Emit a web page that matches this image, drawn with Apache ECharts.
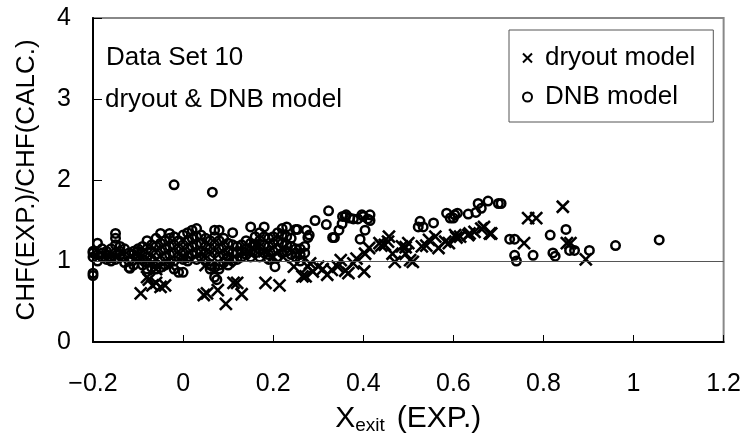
<!DOCTYPE html>
<html>
<head>
<meta charset="utf-8">
<script src="https://cdn.jsdelivr.net/npm/echarts@6/dist/echarts.min.js"></script>
<style>html,body{margin:0;padding:0;background:#fff}#c{width:744px;height:445px}</style>
</head>
<body>
<div id="c"></div>
<script>
// ---- data ----
const seriesNames = ['dryout model', 'DNB model'];
const xMin = -0.2, xMax = 1.2, xStep = 0.2;
const yMin = 0, yMax = 4, yStep = 1;
const refLineY = 1;
const noteLines = ['Data Set 10', 'dryout & DNB model'];

// dryout model (x marks): [X_exit, CHF ratio]
const dryoutPoints = [
  [-0.094,0.60],[-0.076,0.77],[-0.068,0.70],[-0.05,0.68],[-0.04,0.70],[-0.08,0.80],[-0.06,0.73],
  [0.046,0.58],[0.053,0.60],[0.077,0.64],[0.095,0.47],[0.112,0.73],[0.12,0.73],[0.13,0.59],[0.183,0.73],[0.214,0.70],
  [-0.15,1.05],[-0.10,1.00],[-0.06,0.90],[-0.03,0.95],[0.00,1.05],[0.05,0.95],[0.10,1.00],[0.15,1.10],[0.20,1.05],[0.18,1.12],[0.16,1.20],[0.22,1.15],
  [0.222,1.05],[0.246,0.93],[0.265,0.81],[0.272,0.81],[0.277,0.93],[0.282,0.97],[0.288,0.87],[0.30,0.93],[0.31,0.90],[0.32,0.83],
  [0.33,0.89],[0.343,0.93],[0.35,1.01],[0.36,0.88],[0.367,0.85],[0.378,0.97],[0.385,1.03],[0.402,0.87],[0.404,1.09],[0.413,1.16],
  [0.436,1.22],[0.44,1.19],[0.448,1.20],[0.455,1.24],[0.457,1.30],[0.465,1.09],[0.47,0.99],[0.486,1.18],[0.494,1.09],[0.494,1.17],
  [0.50,1.22],[0.504,1.01],[0.51,0.99],[0.53,1.18],[0.54,1.19],[0.546,1.26],[0.56,1.30],[0.567,1.16],[0.582,1.24],[0.59,1.22],
  [0.604,1.32],[0.607,1.29],[0.615,1.30],[0.633,1.32],[0.636,1.34],[0.647,1.36],[0.662,1.40],[0.668,1.42],[0.681,1.34],[0.684,1.34],
  [0.757,1.22],[0.766,1.53],[0.784,1.53],[0.843,1.67],[0.86,1.22],[0.852,1.22],[0.894,1.02]
];

// DNB model (open circles): [X_exit, CHF ratio]
const dnbPoints = [
  [-0.02,1.94],[0.065,1.85],[-0.2,0.85],[-0.2,0.82],
  [-0.2,1.10],[-0.2,1.05],[-0.2,1.12],
  [-0.19,1.22],[-0.19,1.08],[-0.19,1.00],
  [-0.18,1.15],[-0.18,1.05],[-0.18,1.10],
  [-0.17,1.12],[-0.17,1.02],[-0.17,1.08],
  [-0.16,1.15],[-0.16,1.05],[-0.16,1.00],
  [-0.15,1.34],[-0.15,1.28],[-0.15,1.20],[-0.15,1.10],[-0.15,1.02],
  [-0.14,1.18],[-0.14,1.08],[-0.14,1.12],
  [-0.13,1.15],[-0.13,1.05],[-0.13,0.98],
  [-0.12,1.10],[-0.12,1.00],[-0.12,0.92],
  [-0.11,1.08],[-0.11,0.95],[-0.11,1.12],
  [-0.10,1.12],[-0.10,1.05],[-0.10,1.15],
  [-0.09,1.18],[-0.09,1.10],[-0.09,1.02],[-0.09,0.95],
  [-0.08,1.25],[-0.08,1.15],[-0.08,1.05],[-0.08,0.98],[-0.08,0.90],
  [-0.07,1.20],[-0.07,1.12],[-0.07,1.02],[-0.07,0.92],
  [-0.06,1.28],[-0.06,1.18],[-0.06,1.08],[-0.06,0.96],[-0.06,0.90],
  [-0.05,1.34],[-0.05,1.22],[-0.05,1.12],[-0.05,1.00],[-0.05,0.92],
  [-0.04,1.25],[-0.04,1.15],[-0.04,1.05],[-0.04,0.95],
  [-0.03,1.34],[-0.03,1.28],[-0.03,1.18],[-0.03,1.08],[-0.03,0.98],
  [-0.02,1.30],[-0.02,1.20],[-0.02,1.10],[-0.02,1.00],[-0.02,0.90],
  [-0.01,1.25],[-0.01,1.15],[-0.01,1.05],[-0.01,0.86],
  [0.00,1.32],[0.00,1.20],[0.00,1.10],[0.00,1.02],
  [0.01,1.35],[0.01,1.25],[0.01,1.15],[0.01,1.05],[0.01,1.00],
  [0.02,1.38],[0.02,1.28],[0.02,1.18],[0.02,1.08],
  [0.03,1.40],[0.03,1.30],[0.03,1.20],[0.03,1.10],[0.03,1.02],
  [0.04,1.32],[0.04,1.22],[0.04,1.12],[0.04,1.05],
  [0.05,1.28],[0.05,1.18],[0.05,1.10],[0.05,1.00],
  [0.06,1.25],[0.06,1.15],[0.06,1.05],[0.06,0.95],[0.06,0.90],
  [0.07,1.38],[0.07,1.30],[0.07,1.20],[0.07,1.10],[0.07,0.92],[0.07,0.80],[0.075,0.77],
  [0.08,1.38],[0.08,1.25],[0.08,1.15],[0.08,1.05],[0.08,0.95],[0.08,0.90],
  [0.09,1.28],[0.09,1.18],[0.09,1.08],[0.09,0.98],
  [0.10,1.22],[0.10,1.12],[0.10,1.05],[0.10,0.95],
  [0.11,1.35],[0.11,1.20],[0.11,1.10],[0.11,1.00],
  [0.12,1.18],[0.12,1.10],[0.12,1.02],
  [0.13,1.20],[0.13,1.12],[0.13,1.05],
  [0.14,1.25],[0.14,1.15],[0.14,1.08],
  [0.15,1.42],[0.15,1.22],[0.15,1.12],[0.15,1.05],
  [0.16,1.30],[0.16,1.20],[0.16,1.10],
  [0.17,1.35],[0.17,1.25],[0.17,1.15],[0.17,1.05],
  [0.18,1.42],[0.18,1.30],[0.18,1.20],[0.18,1.10],
  [0.19,1.28],[0.19,1.18],[0.19,1.08],[0.19,1.02],
  [0.20,1.30],[0.20,1.22],[0.20,1.12],[0.204,0.93],
  [0.21,1.35],[0.21,1.25],[0.21,1.15],[0.21,1.05],
  [0.22,1.40],[0.22,1.32],[0.22,1.22],[0.22,1.10],
  [0.23,1.42],[0.23,1.30],[0.23,1.20],[0.23,1.12],
  [0.24,1.28],[0.24,1.18],[0.24,1.08],
  [0.25,1.15],[0.25,1.10],[0.25,1.05],
  [0.26,1.15],[0.26,1.08],[0.26,1.00],
  [0.27,1.18],[0.27,1.10],
  [0.0,0.86],[-0.118,0.91],
  [0.254,1.39],[0.274,1.38],[0.28,1.32],[0.293,1.50],[0.318,1.45],[0.323,1.62],[0.336,1.29],[0.346,1.38],
  [0.353,1.46],[0.36,1.55],[0.362,1.57],[0.378,1.52],[0.388,1.52],[0.397,1.57],[0.415,1.57],[0.415,1.50],
  [0.404,1.38],[0.393,1.27],[0.25,1.39],[0.277,1.29],[0.332,1.29],[0.354,1.55],[0.37,1.53],[0.40,1.55],[0.41,1.52],
  [0.522,1.42],[0.526,1.49],[0.533,1.42],[0.556,1.47],[0.585,1.59],[0.593,1.53],[0.60,1.53],[0.609,1.59],[0.603,1.57],
  [0.633,1.58],[0.65,1.60],[0.655,1.71],[0.662,1.65],[0.677,1.74],[0.70,1.71],[0.706,1.71],
  [0.725,1.27],[0.736,1.27],[0.736,1.07],[0.74,1.00],[0.777,1.07],[0.815,1.32],[0.821,1.10],[0.826,1.06],
  [0.85,1.39],[0.858,1.13],[0.869,1.13],[0.902,1.13],[0.96,1.19],[1.057,1.26]
];

// ---- chart ----
const FONT = '"Liberation Sans", Arial, sans-serif';
const crossPath = 'path://M0,0L10,10M10,0L0,10';
const chart = echarts.init(document.getElementById('c'), null, {renderer: 'canvas'});
chart.setOption({
  animation: false,
  backgroundColor: '#fff',
  textStyle: {fontFamily: FONT, color: '#000'},
  grid: {left: 93, right: 20, top: 18, bottom: 103, show: true, borderColor: '#888', borderWidth: 2, backgroundColor: 'transparent'},
  xAxis: {
    type: 'value', min: xMin, max: xMax, interval: xStep,
    axisLine: {onZero: false, lineStyle: {color: '#000', width: 2}},
    axisTick: {inside: true, length: 7, lineStyle: {color: '#000', width: 1}},
    splitLine: {show: false},
    axisLabel: {fontSize: 25, color: '#000', fontFamily: FONT, margin: 30,
      formatter: v => String(Math.round(v * 10) / 10).replace('-', '\u2212')},
    name: '{a|X}{b|exit}{a|(EXP.)}',
    nameLocation: 'middle', nameGap: 60,
    nameTextStyle: {rich: {
      a: {fontSize: 30, fontFamily: FONT, color: '#000'},
      b: {fontSize: 19, fontFamily: FONT, color: '#000', padding: [14, 12, 0, 0]}
    }}
  },
  yAxis: {
    type: 'value', min: yMin, max: yMax, interval: yStep,
    axisLine: {onZero: false, lineStyle: {color: '#000', width: 2}},
    axisTick: {inside: true, length: 9, lineStyle: {color: '#000', width: 1}},
    splitLine: {show: false},
    axisLabel: {fontSize: 25, color: '#000', fontFamily: FONT, margin: 22},
    name: 'CHF(EXP.)/CHF(CALC.)', nameLocation: 'middle', nameGap: 53,
    nameTextStyle: {fontSize: 26, fontFamily: FONT, color: '#000'}
  },
  legend: {
    orient: 'vertical', left: 509, top: 30,
    width: 180,
    padding: [15, 18, 12, 13], itemGap: 13,
    itemWidth: 9, itemHeight: 9,
    borderColor: '#555', borderWidth: 1, backgroundColor: '#fff',
    textStyle: {fontSize: 26, fontFamily: FONT, color: '#000', padding: [0, 0, 0, 8]},
    data: [
      {name: seriesNames[0], icon: crossPath},
      {name: seriesNames[1], icon: 'circle'}
    ]
  },
  graphic: [
    {type: 'text', left: 106, top: 45, style: {text: noteLines[0], font: '26px ' + FONT, fill: '#000'}},
    {type: 'text', left: 105, top: 87, style: {text: noteLines[1], font: '26px ' + FONT, fill: '#000'}}
  ],
  series: [
    {
      name: seriesNames[1], type: 'scatter', data: dnbPoints,
      symbol: 'circle', symbolSize: 8.5,
      itemStyle: {color: 'rgba(0,0,0,0)', borderColor: '#000', borderWidth: 2.5, opacity: 1},
      silent: true, z: 3,
      markLine: {
        silent: true, symbol: ['none', 'none'], label: {show: false},
        lineStyle: {color: '#555', width: 1, type: 'solid'},
        data: [{yAxis: refLineY}]
      }
    },
    {
      name: seriesNames[0], type: 'scatter', data: dryoutPoints,
      symbol: crossPath, symbolSize: 12,
      itemStyle: {color: 'rgba(0,0,0,0)', borderColor: '#000', borderWidth: 2.6, opacity: 1},
      silent: true, z: 4
    }
  ]
});
</script>
</body>
</html>
